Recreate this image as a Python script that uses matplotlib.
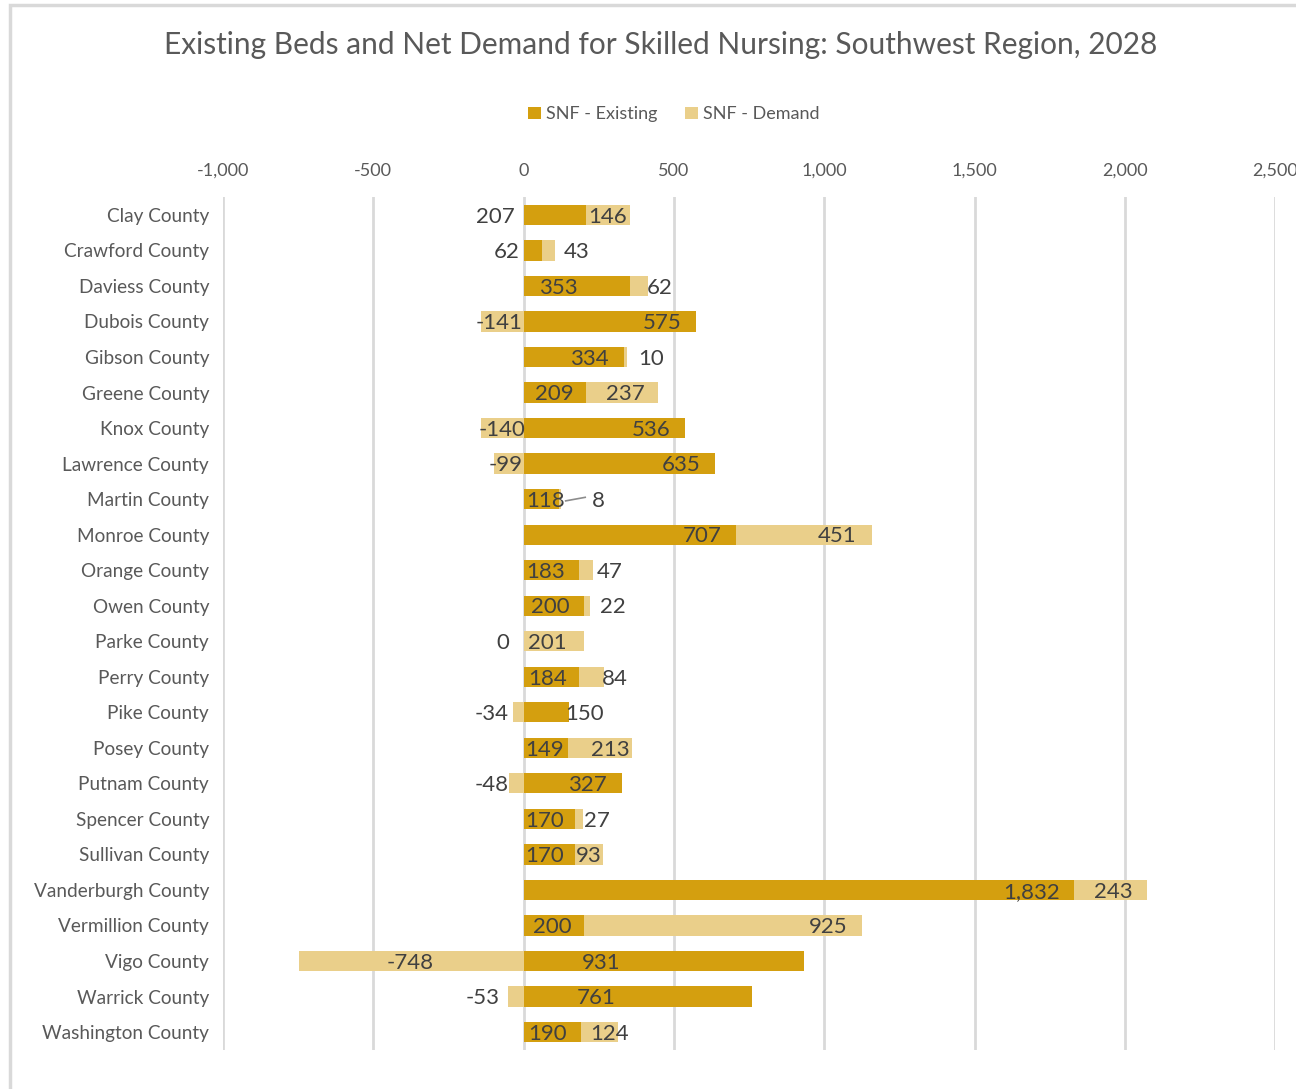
import matplotlib
matplotlib.use("Agg")
import matplotlib.pyplot as plt
from matplotlib.patches import Rectangle
from matplotlib.ticker import FuncFormatter

plt.rcParams['font.family'] = ['Lato', 'DejaVu Sans']

# data
counties = ["Clay County", "Crawford County", "Daviess County", "Dubois County",
            "Gibson County", "Greene County", "Knox County", "Lawrence County",
            "Martin County", "Monroe County", "Orange County", "Owen County",
            "Parke County", "Perry County", "Pike County", "Posey County",
            "Putnam County", "Spencer County", "Sullivan County", "Vanderburgh County",
            "Vermillion County", "Vigo County", "Warrick County", "Washington County"]
existing = [207, 62, 353, 575, 334, 209, 536, 635, 118, 707, 183, 200,
            0, 184, 150, 149, 327, 170, 170, 1832, 200, 931, 761, 190]
demand = [146, 43, 62, -141, 10, 237, -140, -99, 8, 451, 47, 22,
          201, 84, -34, 213, -48, 27, 93, 243, 925, -748, -53, 124]

# where Excel left the data labels (x in data units)
existing_lbl_x = [-93, -57, 117, 460, 220, 103, 423, 523, 73, 593, 73, 90,
                  -70, 80, 203, 70, 213, 70, 70, 1690, 97, 257, 243, 80]
demand_lbl_x = [280, 177, 453, -80, 423, 337, -70, -60, 250, 1043, 287, 297,
                80, 303, -107, 287, -107, 243, 217, 1963, 1013, -377, -137, 287]

c_exist = '#D49F0F'
c_demand = '#EACF8A'
txt = '#404040'
grey = '#595959'

fig = plt.figure(figsize=(12.96, 10.89), dpi=100)
ax = fig.add_axes([0.172, 0.036, 0.812, 0.783])

y = list(range(len(counties)))
dem_left = [e if d >= 0 else 0 for e, d in zip(existing, demand)]

ax.barh(y, existing, height=0.57, color=c_exist, label='SNF - Existing', zorder=2)
ax.barh(y, demand, left=dem_left, height=0.57, color=c_demand, label='SNF - Demand', zorder=2)

for i in y:
    ax.text(existing_lbl_x[i], i + 0.05, f"{existing[i]:,}", ha='center', va='center',
            fontsize=16, color=txt, zorder=3)
    ax.text(demand_lbl_x[i], i + 0.05, f"{demand[i]:,}", ha='center', va='center',
            fontsize=16, color=txt, zorder=3)

# leader line for Martin County's small demand value
ax.plot([140, 205], [8.05, 7.95], color='#8C8C8C', lw=1.2, zorder=3)

ax.set_xlim(-1000, 2500)
ax.set_ylim(23.5, -0.5)
ax.set_xticks(range(-1000, 2501, 500))
ax.xaxis.set_major_formatter(FuncFormatter(lambda v, p: f"{int(v):,}"))
ax.xaxis.tick_top()
ax.tick_params(axis='x', length=0, pad=13, labelsize=13, labelcolor=grey)
ax.set_yticks(y)
ax.set_yticklabels(counties)
ax.tick_params(axis='y', length=0, pad=10, labelsize=13.7, labelcolor=grey)
ax.grid(axis='x', color='#D9D9D9', lw=2, zorder=0)
for s in ax.spines.values():
    s.set_visible(False)

fig.text(0.51, 0.959, "Existing Beds and Net Demand for Skilled Nursing: Southwest Region, 2028",
         ha='center', va='center', fontsize=21.5, color=grey)
fig.legend(loc='center', bbox_to_anchor=(0.52, 0.895), ncol=2, frameon=False,
           fontsize=13, labelcolor=grey, handlelength=0.7, handleheight=0.7,
           handletextpad=0.3, columnspacing=1.5)

# chart area border
fig.patches.append(Rectangle((10 / 1296, -0.1), 1.2, 1 - 5 / 1089 + 0.1, transform=fig.transFigure,
                             fill=False, edgecolor='#D9D9D9', lw=2.5))

fig.savefig("out.png", dpi=100)
